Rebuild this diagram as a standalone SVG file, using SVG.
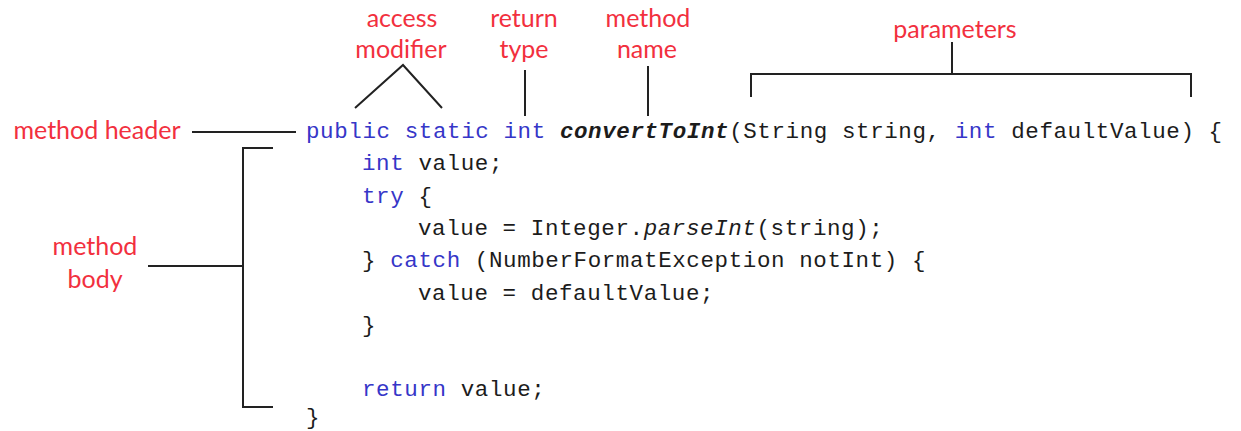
<svg xmlns="http://www.w3.org/2000/svg" width="1241" height="431" viewBox="0 0 1241 431">
<style>
.lbl{font-family:Lato,"Open Sans","Liberation Sans",sans-serif;font-size:25px;fill:#f2303e;text-anchor:middle}
.code{font-family:"Liberation Mono","DejaVu Sans Mono",monospace;font-size:22.5px;letter-spacing:0.6px;fill:#1c1c1c}
.kw{fill:#3636c8}
.bi{font-weight:bold;font-style:italic}
.it{font-style:italic}
.ln{stroke:#222;stroke-width:2;fill:none}
</style>
<rect width="1241" height="431" fill="#fff"/>
<g id="code" class="code" xml:space="preserve">
<text x="306" y="138"><tspan class="kw">public</tspan> <tspan class="kw">static</tspan> <tspan class="kw">int</tspan> <tspan class="bi">convertToInt</tspan>(String string, <tspan class="kw">int</tspan> defaultValue) {</text>
<text x="362" y="170"><tspan class="kw">int</tspan> value;</text>
<text x="362" y="203"><tspan class="kw">try</tspan> {</text>
<text x="418" y="235">value = Integer.<tspan class="it">parseInt</tspan>(string);</text>
<text x="362" y="267">} <tspan class="kw">catch</tspan> (NumberFormatException notInt) {</text>
<text x="418" y="300">value = defaultValue;</text>
<text x="362" y="332">}</text>
<text x="362" y="396"><tspan class="kw">return</tspan> value;</text>
<text x="306" y="424">}</text>
</g>
<g id="label-method-header"><text class="lbl" x="97" y="139">method header</text></g>
<g id="label-access-modifier"><text class="lbl" x="402" y="27">access</text><text class="lbl" x="401" y="58">modifier</text></g>
<g id="label-return-type"><text class="lbl" x="524" y="27">return</text><text class="lbl" x="524" y="58">type</text></g>
<g id="label-method-name"><text class="lbl" x="648" y="27">method</text><text class="lbl" x="647" y="58">name</text></g>
<g id="label-parameters"><text class="lbl" x="955" y="38">parameters</text></g>
<g id="label-method-body"><text class="lbl" x="95" y="255">method</text><text class="lbl" x="95" y="288">body</text></g>
<g id="connectors" class="ln">
<line x1="192" y1="132" x2="296" y2="132"/>
<polyline points="355,108 403,65 442,108"/>
<line x1="525" y1="70" x2="525" y2="116"/>
<line x1="648" y1="66" x2="648" y2="116"/>
<line x1="952" y1="42" x2="952" y2="74"/>
<polyline points="751,97 751,74 1191,74 1191,97"/>
<polyline points="273,148 243,148 243,407 273,407"/>
<line x1="148" y1="266" x2="243" y2="266"/>
</g>
</svg>
